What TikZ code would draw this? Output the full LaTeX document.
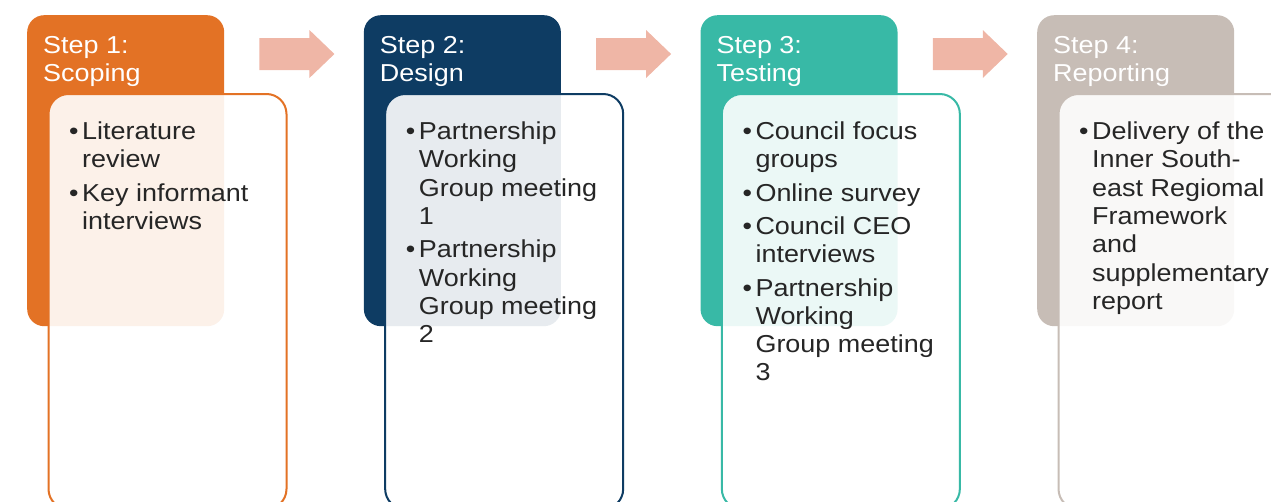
\documentclass[tikz,border=0pt]{standalone}
\usepackage{fontspec}
\setmainfont[FakeStretch=1.1]{Liberation Sans}
\usetikzlibrary{positioning,calc}
\definecolor{scopeorange}{RGB}{227,114,37}
\definecolor{designblue}{RGB}{14,60,99}
\definecolor{testteal}{RGB}{56,185,166}
\definecolor{reporttaupe}{RGB}{199,189,182}
\definecolor{arrowpink}{RGB}{239,182,166}
\definecolor{bodygrey}{RGB}{38,38,38}

% one bullet point with hanging lines
\newcommand{\bitem}[1]{\hangindent=13pt\hangafter=1\noindent\makebox[13pt][l]{\textbullet}#1\par}

\begin{document}
\begin{tikzpicture}[x=1pt,y=-1pt,
    every node/.style={inner sep=0pt},
    header/.style={rounded corners=17pt,minimum width=197pt,minimum height=311pt,anchor=north west},
    title/.style={anchor=base west,align=left,text=white,font=\fontsize{24.5}{27.7}\selectfont},
    stepbox/.style={anchor=north west,draw,line width=2pt,fill=white,fill opacity=0.9,
      rounded corners=20pt,minimum width=238pt,minimum height=415pt},
    items/.style={anchor=base west,text width=240pt,align=left,text=bodygrey,
      font=\fontsize{24.5}{28.3}\selectfont,
      execute at begin node={\fontsize{24.5}{28.3}\selectfont\spaceskip=0pt\xspaceskip=0pt\setlength{\parskip}{5pt}}}
  ]

  \useasboundingbox (0,0) rectangle (1271,501);
  \clip (0,0) rectangle (1271,501);

  % the four steps
  \foreach \i/\col/\title/\body in {
      1/scopeorange/{Step 1:\\Scoping}/{\bitem{Literature\newline review}\bitem{Key informant\newline interviews}},
      2/designblue/{Step 2:\\Design}/{\bitem{Partnership\newline Working\newline Group meeting\newline 1}\bitem{Partnership\newline Working\newline Group meeting\newline 2}},
      3/testteal/{Step 3:\\Testing}/{\bitem{Council focus\newline groups}\bitem{Online survey}\bitem{Council CEO\newline interviews}\bitem{Partnership\newline Working\newline Group meeting\newline 3}},
      4/reporttaupe/{Step 4:\\Reporting}/{\bitem{Delivery of the\newline Inner South-\newline east Regiomal\newline Framework\newline and\newline supplementary\newline report}}}{
    \pgfmathsetmacro{\x}{27+336.67*(\i-1)}
    \node[header,fill=\col] (h\i) at (\x,15) {};
    \node[title] (t\i) at (\x+16,81.5) {\title};
    \node[stepbox,draw=\col] (b\i) at (\x+20.5,93) {};
    \node[items] (l\i) at (\x+42,139.5) {\body};
  }

  % the arrows between the steps
  \foreach \i in {1,2,3}
    \fill[arrowpink,shift={($(h\i.north east)+(35,39)$)}]
      (0,-16) -- (50,-16) -- (50,-24) -- (75,0) -- (50,24) -- (50,16) -- (0,16) -- cycle;
\end{tikzpicture}
\end{document}
